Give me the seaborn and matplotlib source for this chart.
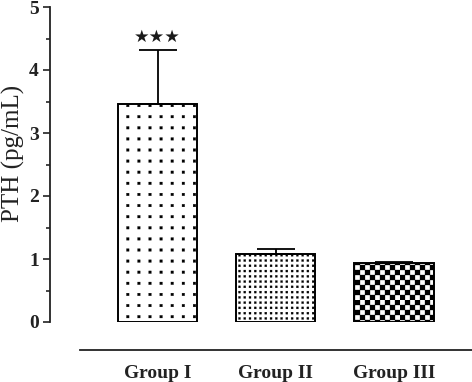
import numpy as np
import pandas as pd
import matplotlib
matplotlib.use("Agg")
import matplotlib.pyplot as plt
import matplotlib.hatch as mhatch
from matplotlib.path import Path
from matplotlib.ticker import MultipleLocator
import seaborn as sns

groups = ["Group I", "Group II", "Group III"]
pth_mean = [3.46, 1.08, 0.94]
pth_sd = [0.86, 0.08, 0.02]
y_ticks = [0, 1, 2, 3, 4, 5]
significance = "\u2605\u2605\u2605"


# ---- custom hatch patterns (square dot grids and checkerboard) ----
class _SquareGrid(mhatch.HatchPatternBase):
    char = "."
    n = 9
    size = 0.025
    checker = False

    def __init__(self, hatch, density):
        self.active = self.char in hatch
        if not self.active:
            self.num_vertices = 0
            return
        self.cells = []
        for i in range(self.n):
            for j in range(self.n):
                if self.checker:
                    if (i + j) % 2 == 0:
                        self.cells.append((i / self.n, j / self.n, 1.0 / self.n))
                else:
                    cx = (i + 0.5) / self.n
                    cy = (j + 0.5) / self.n
                    self.cells.append((cx - self.size / 2, cy - self.size / 2, self.size))
        self.num_vertices = len(self.cells) * 5

    def set_vertices_and_codes(self, vertices, codes):
        vs = []
        cs = []
        for (x0, y0, s) in self.cells:
            vs.extend([[x0, y0], [x0 + s, y0], [x0 + s, y0 + s], [x0, y0 + s], [x0, y0]])
            cs.extend([Path.MOVETO, Path.LINETO, Path.LINETO, Path.LINETO, Path.CLOSEPOLY])
        vertices[:] = np.array(vs)
        codes[:] = np.array(cs, dtype=Path.code_type)


class SparseDots(_SquareGrid):
    char = "."
    n = 9
    size = 0.026


class DenseDots(_SquareGrid):
    char = "o"
    n = 19
    size = 0.02


class Checker(_SquareGrid):
    char = "*"
    n = 20
    checker = True


mhatch._hatch_types = [SparseDots, DenseDots, Checker]
bar_hatches = [".", "o", "*"]

sns.set_theme(style="ticks")
plt.rcParams["font.family"] = ["Liberation Serif", "DejaVu Sans"]
plt.rcParams["font.weight"] = "bold"
plt.rcParams["hatch.linewidth"] = 0.2
plt.rcParams["hatch.color"] = "black"

fig = plt.figure(figsize=(4.72, 3.82), dpi=100)
W, H = 472, 382
ax = fig.add_axes([50 / W, (H - 322) / H, 1 - 50 / W, (322 - 7) / H])

df = pd.DataFrame({"group": groups, "pth": pth_mean})
sns.barplot(data=df, x="group", y="pth", color="white", edgecolor="black",
            linewidth=1.4, width=0.67, errorbar=None, ax=ax, saturation=1)
for patch, h in zip(ax.patches, bar_hatches):
    patch.set_hatch(h)
    patch.set_facecolor("white")

xpos = np.arange(len(groups))
ax.errorbar(xpos, pth_mean, yerr=[np.zeros(len(groups)), pth_sd], fmt="none",
            ecolor="black", elinewidth=1.3, capsize=14, capthick=1.3, zorder=1)

ax.text(0, pth_mean[0] + pth_sd[0] + 0.2, significance, ha="center", va="center",
        fontsize=12.5, color="#1a1a1a", family=["DejaVu Sans"], fontweight="normal")

ax.set_xlim(-0.91, 2.66)
ax.set_ylim(0, 5)
ax.set_yticks(y_ticks)
ax.set_xticks(xpos, groups)
ax.yaxis.set_minor_locator(MultipleLocator(0.5))
ax.tick_params(axis="y", which="major", length=5, width=1.2, pad=3, labelsize=14, colors="#222222")
ax.tick_params(axis="y", which="minor", length=3, width=1.2)
ax.tick_params(axis="x", length=0, pad=11, labelsize=14, colors="#222222")

sns.despine(ax=ax, top=True, right=True)
ax.spines["bottom"].set_position(("outward", 20))
ax.spines["bottom"].set_bounds(-0.66, 2.66)
ax.spines["bottom"].set_linewidth(1.3)
ax.spines["left"].set_linewidth(1.3)
ax.spines["bottom"].set_color("#222222")
ax.spines["left"].set_color("#222222")

ax.set_xlabel("")
ax.set_ylabel("")
fig.text(13 / W, 1 - 153 / H, "PTH (pg/mL)", rotation=90, ha="center", va="center",
         fontsize=18, color="#222222", fontweight="normal")

fig.savefig("out.png", dpi=100)
